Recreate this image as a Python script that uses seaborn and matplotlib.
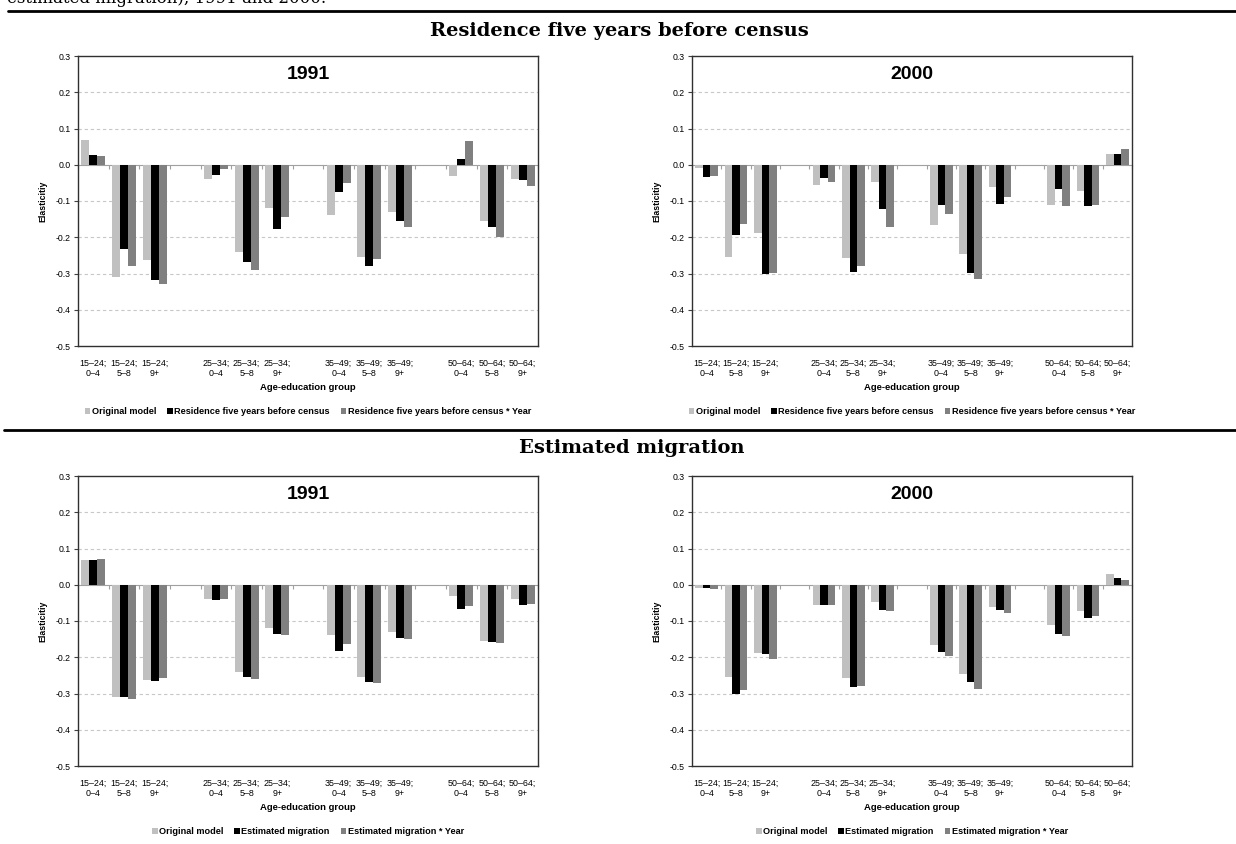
import numpy as np
import pandas as pd
import matplotlib
matplotlib.use("Agg")
import matplotlib.pyplot as plt
from matplotlib.lines import Line2D
from matplotlib.ticker import FormatStrFormatter
import seaborn as sns

sns.set_style("white")
plt.rcParams["font.family"] = ["Liberation Sans", "DejaVu Sans"]
for k in ["text.color", "axes.labelcolor", "xtick.color", "ytick.color"]:
    plt.rcParams[k] = "black"

# ---------------- data ----------------
groups = ["15–24;\n0–4", "15–24;\n5–8", "15–24;\n9+",
          "25–34;\n0–4", "25–34;\n5–8", "25–34;\n9+",
          "35–49;\n0–4", "35–49;\n5–8", "35–49;\n9+",
          "50–64;\n0–4", "50–64;\n5–8", "50–64;\n9+"]
# order on the axis, with empty slots between age groups
slot_order = groups[0:3] + [" "] + groups[3:6] + ["  "] + groups[6:9] + ["   "] + groups[9:12]

orig_1991 = [0.068, -0.311, -0.263, -0.040, -0.242, -0.120, -0.138, -0.255, -0.131, -0.031, -0.155, -0.040]
orig_2000 = [-0.008, -0.255, -0.188, -0.057, -0.258, -0.048, -0.165, -0.247, -0.060, -0.110, -0.073, 0.031]

res_1991 = [0.027, -0.232, -0.319, -0.027, -0.269, -0.176, -0.074, -0.278, -0.156, 0.017, -0.171, -0.041]
resy_1991 = [0.025, -0.278, -0.330, -0.013, -0.291, -0.145, -0.049, -0.260, -0.172, 0.065, -0.198, -0.059]
res_2000 = [-0.034, -0.195, -0.301, -0.036, -0.297, -0.123, -0.110, -0.298, -0.107, -0.067, -0.115, 0.031]
resy_2000 = [-0.032, -0.163, -0.298, -0.048, -0.280, -0.172, -0.136, -0.316, -0.090, -0.113, -0.110, 0.044]

mig_1991 = [0.068, -0.311, -0.266, -0.043, -0.255, -0.135, -0.184, -0.268, -0.148, -0.067, -0.158, -0.056]
migy_1991 = [0.072, -0.316, -0.256, -0.038, -0.260, -0.138, -0.163, -0.270, -0.151, -0.058, -0.160, -0.052]
mig_2000 = [-0.008, -0.300, -0.192, -0.056, -0.283, -0.069, -0.186, -0.268, -0.069, -0.135, -0.093, 0.019]
migy_2000 = [-0.011, -0.290, -0.204, -0.056, -0.278, -0.072, -0.196, -0.288, -0.079, -0.140, -0.087, 0.013]

series_res = ["Original model", "Residence five years before census",
              "Residence five years before census * Year"]
series_mig = ["Original model", "Estimated migration", "Estimated migration * Year"]
colors = ["#c0c0c0", "#000000", "#808080"]

y_ticks = [0.3, 0.2, 0.1, 0.0, -0.1, -0.2, -0.3, -0.4, -0.5]
section_titles = ["Residence five years before census", "Estimated migration"]

# ---------------- figure ----------------
W, H = 1236, 844
fig = plt.figure(figsize=(W / 100, H / 100), dpi=100)

def fx(px):
    return px / W

def fy(py):
    return 1 - py / H

def make_df(names, cols):
    rows = []
    for name, vals in zip(names, cols):
        for g, v in zip(groups, vals):
            rows.append({"group": g, "series": name, "value": v})
    return pd.DataFrame(rows)

panels = [
    (series_res, [orig_1991, res_1991, resy_1991], "1991", (78, 56, 538, 346)),
    (series_res, [orig_2000, res_2000, resy_2000], "2000", (692, 56, 1132, 346)),
    (series_mig, [orig_1991, mig_1991, migy_1991], "1991", (78, 476, 538, 766)),
    (series_mig, [orig_2000, mig_2000, migy_2000], "2000", (692, 476, 1132, 766)),
]

ymin, ymax = -0.5, 0.3
zero_frac = (0 - ymin) / (ymax - ymin)

for names, cols, year, (x0, y0, x1, y1) in panels:
    ax = fig.add_axes([fx(x0), fy(y1), fx(x1 - x0), (y1 - y0) / H])
    df = make_df(names, cols)
    sns.barplot(data=df, x="group", y="value", hue="series", order=slot_order,
                hue_order=names, palette=colors, saturation=1, width=0.78,
                linewidth=0, ax=ax)
    ax.set_ylim(ymin, ymax)
    ax.set_xlim(-0.5, len(slot_order) - 0.5)
    ax.set_yticks(y_ticks)
    ax.yaxis.set_major_formatter(FormatStrFormatter("%.1f"))
    ax.tick_params(axis="y", direction="out", length=3, width=0.8, color="#404040",
                   labelsize=6.3, pad=2, left=True)
    ax.tick_params(axis="x", length=0, labelsize=6.4, pad=9)
    for lab in ax.get_xticklabels():
        lab.set_linespacing(1.15)
    for y in y_ticks[1:-1]:
        if y != 0:
            ax.axhline(y, color="#c8c8c8", lw=0.8, ls=(0, (3, 2.5)), zorder=0)
    for sp in ax.spines.values():
        sp.set_color("#303030")
        sp.set_linewidth(1.0)
    # category axis crossing at zero with boundary tick marks
    sec = ax.secondary_xaxis(zero_frac)
    sec.set_xticks(np.arange(-0.5, len(slot_order), 1.0))
    sec.tick_params(axis="x", direction="out", length=3, width=0.8, color="#a0a0a0",
                    labelbottom=False, labeltop=False, bottom=True, top=False)
    sec.spines["bottom"].set_color("#a0a0a0")
    sec.spines["top"].set_color("#a0a0a0")
    ax.set_xlabel("Age-education group", fontsize=6.8, fontweight="bold", labelpad=4)
    ax.set_ylabel("Elasticitiy", fontsize=6.3, fontweight="bold", labelpad=6)
    ax.text(0.5, 0.965, year, transform=ax.transAxes, ha="center", va="top",
            fontsize=14, fontweight="bold")
    sns.move_legend(ax, "center", bbox_to_anchor=(0.5, -0.227), ncol=3, title=None,
                    frameon=False, prop={"weight": "bold", "size": 6.6},
                    handlelength=0.6, handleheight=0.6, handletextpad=0.15,
                    columnspacing=1.2, borderaxespad=0)

# section headers and rules
fig.text(fx(7), fy(3), "estimated migration), 1991 and 2000.", family="DejaVu Serif",
         fontsize=12, va="baseline", ha="left")
fig.add_artist(Line2D([fx(8), 1], [fy(11), fy(11)], color="black", lw=2))
fig.add_artist(Line2D([fx(4), 1], [fy(430), fy(430)], color="black", lw=2))
fig.text(0.501, fy(31), section_titles[0], family="DejaVu Serif", fontweight="bold",
         fontsize=14, ha="center", va="center")
fig.text(0.511, fy(448), section_titles[1], family="DejaVu Serif", fontweight="bold",
         fontsize=14, ha="center", va="center")

fig.savefig("out.png", dpi=100)
